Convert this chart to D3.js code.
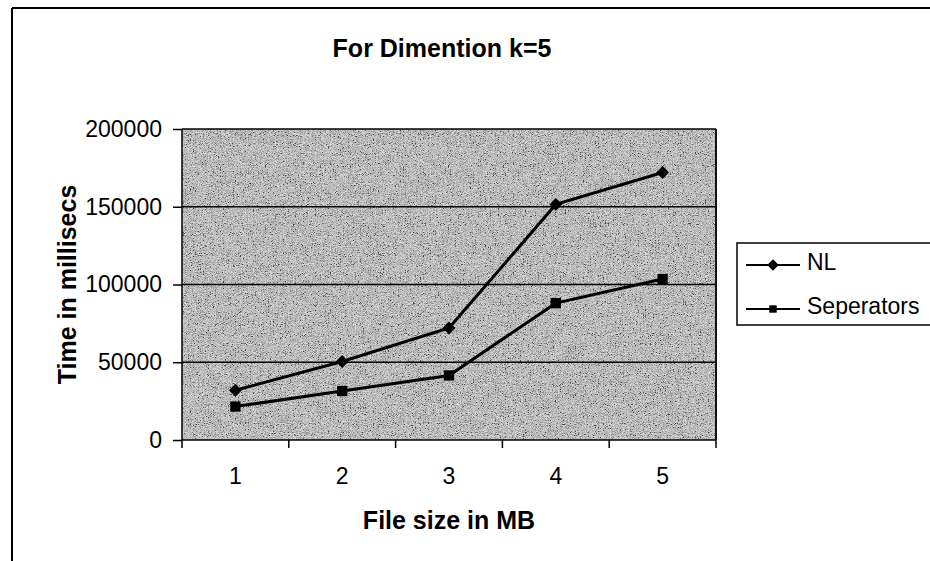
<!DOCTYPE html>
<html>
<head>
<meta charset="utf-8">
<script src="https://cdn.jsdelivr.net/npm/d3@7"></script>
<style>
  html, body { margin: 0; padding: 0; background: #fff; }
  svg { display: block; font-family: "Liberation Sans", Arial, sans-serif; }
</style>
</head>
<body>
<svg id="chart" width="930" height="561"></svg>
<script>
// File sizes (MB) on the x axis
const categories = ["1", "2", "3", "4", "5"];
// Running time in milliseconds for each method
const nlValues = [32000, 50500, 72000, 151500, 172000];
const sepValues = [21500, 31500, 41500, 88000, 103500];
// Value axis ticks
const yTicks = [0, 50000, 100000, 150000, 200000];

const series = [
  { name: "NL", values: nlValues, symbol: d3.symbolDiamond2, size: 105, legendSize: 85 },
  { name: "Seperators", values: sepValues, symbol: d3.symbolSquare2, size: 135, legendSize: 70 }
];

const svg = d3.select("#chart");
const W = 930, H = 561;
const plot = { left: 182, right: 716, top: 129, bottom: 440 };

// Speckled grain for the shaded plot area
const defs = svg.append("defs");
const f = defs.append("filter").attr("id", "grain")
  .attr("x", 0).attr("y", 0).attr("width", "100%").attr("height", "100%");
f.append("feTurbulence").attr("type", "fractalNoise")
  .attr("baseFrequency", "1.4 0.9").attr("numOctaves", 1).attr("seed", 11).attr("result", "n");
f.append("feColorMatrix").attr("type", "matrix")
  .attr("values", "0.33 0.33 0.33 0 0  0.33 0.33 0.33 0 0  0.33 0.33 0.33 0 0  0 0 0 0 1");
const ct = f.append("feComponentTransfer");
["feFuncR", "feFuncG", "feFuncB"].forEach(fn =>
  ct.append(fn).attr("type", "linear").attr("slope", 4.8).attr("intercept", -1.75));

// Outer chart frame (top and left edges)
svg.append("line").attr("x1", 12).attr("x2", W).attr("y1", 8).attr("y2", 8)
  .attr("stroke", "#000").attr("stroke-width", 2);
svg.append("line").attr("x1", 12).attr("x2", 12).attr("y1", 8).attr("y2", H)
  .attr("stroke", "#000").attr("stroke-width", 2);

// Title
svg.append("text").attr("x", 442).attr("y", 57)
  .attr("text-anchor", "middle").attr("font-size", 25).attr("font-weight", "bold")
  .text("For Dimention k=5");

const x = d3.scaleBand().domain(categories).range([plot.left, plot.right]);
const y = d3.scaleLinear().domain([0, 200000]).range([plot.bottom, plot.top]);

// Plot background
svg.append("rect").attr("x", plot.left).attr("y", plot.top)
  .attr("width", plot.right - plot.left).attr("height", plot.bottom - plot.top)
  .attr("fill", "#a2a2a2");
svg.append("rect").attr("x", plot.left).attr("y", plot.top)
  .attr("width", plot.right - plot.left).attr("height", plot.bottom - plot.top)
  .attr("fill", "#888").attr("filter", "url(#grain)").attr("opacity", 0.55);

// Horizontal gridlines
svg.append("g").selectAll("line").data(yTicks.slice(1)).join("line")
  .attr("x1", plot.left).attr("x2", plot.right)
  .attr("y1", d => y(d)).attr("y2", d => y(d))
  .attr("stroke", "#000").attr("stroke-width", 1.5);

// Plot frame (right edge)
svg.append("line").attr("x1", plot.right).attr("x2", plot.right)
  .attr("y1", plot.top).attr("y2", plot.bottom).attr("stroke", "#111").attr("stroke-width", 2);

// Y axis
const yAxis = svg.append("g").attr("transform", `translate(${plot.left},0)`)
  .call(d3.axisLeft(y).tickValues(yTicks).tickFormat(d3.format("d")).tickSize(9).tickPadding(11));
yAxis.selectAll("text").attr("font-size", 23).attr("fill", "#000")
  .attr("font-family", "Liberation Sans, Arial, sans-serif");
yAxis.selectAll("line, path").attr("stroke", "#000").attr("stroke-width", 1.5);
yAxis.select("path").attr("d", `M0,${plot.top}V${plot.bottom}`);

// X axis: ticks sit on category boundaries
const xAxis = svg.append("g").attr("transform", `translate(0,${plot.bottom})`);
xAxis.append("line").attr("x1", plot.left).attr("x2", plot.right)
  .attr("stroke", "#000").attr("stroke-width", 1.5);
const bounds = categories.map(c => x(c)).concat([x(categories[categories.length - 1]) + x.bandwidth()]);
xAxis.selectAll("line.tk").data(bounds).join("line").attr("class", "tk")
  .attr("x1", d => d).attr("x2", d => d).attr("y1", 0).attr("y2", 8)
  .attr("stroke", "#000").attr("stroke-width", 1.5);
xAxis.selectAll("text").data(categories).join("text")
  .attr("x", d => x(d) + x.bandwidth() / 2).attr("y", 44)
  .attr("text-anchor", "middle").attr("font-size", 23).text(d => d);

// Axis titles
svg.append("text").attr("x", 449).attr("y", 529).attr("text-anchor", "middle")
  .attr("font-size", 25).attr("font-weight", "bold").text("File size in MB");
svg.append("text").attr("transform", `translate(76,${(plot.top + plot.bottom) / 2}) rotate(-90)`)
  .attr("text-anchor", "middle").attr("font-size", 25).attr("font-weight", "bold")
  .text("Time in millisecs");

// Series lines and markers
const cx = c => x(c) + x.bandwidth() / 2;
const line = d3.line().x((d, i) => cx(categories[i])).y(d => y(d));
series.forEach(s => {
  svg.append("path").datum(s.values).attr("d", line)
    .attr("fill", "none").attr("stroke", "#000").attr("stroke-width", 3);
  svg.append("g").selectAll("path").data(s.values).join("path")
    .attr("transform", (d, i) => `translate(${cx(categories[i])},${y(d)})`)
    .attr("d", d3.symbol().type(s.symbol).size(s.size))
    .attr("fill", "#000");
});

// Legend
const lg = svg.append("g");
lg.append("rect").attr("x", 737).attr("y", 243).attr("width", 220).attr("height", 82)
  .attr("fill", "#fff").attr("stroke", "#000").attr("stroke-width", 1.5);
const legendRows = [265, 309];
series.forEach((s, i) => {
  const ly = legendRows[i];
  lg.append("line").attr("x1", 746).attr("x2", 800).attr("y1", ly).attr("y2", ly)
    .attr("stroke", "#000").attr("stroke-width", 2);
  lg.append("path").attr("transform", `translate(773,${ly})`)
    .attr("d", d3.symbol().type(s.symbol).size(s.legendSize)).attr("fill", "#000");
  lg.append("text").attr("x", 807).attr("y", ly + 5)
    .attr("font-size", 23).text(s.name);
});
</script>
</body>
</html>
